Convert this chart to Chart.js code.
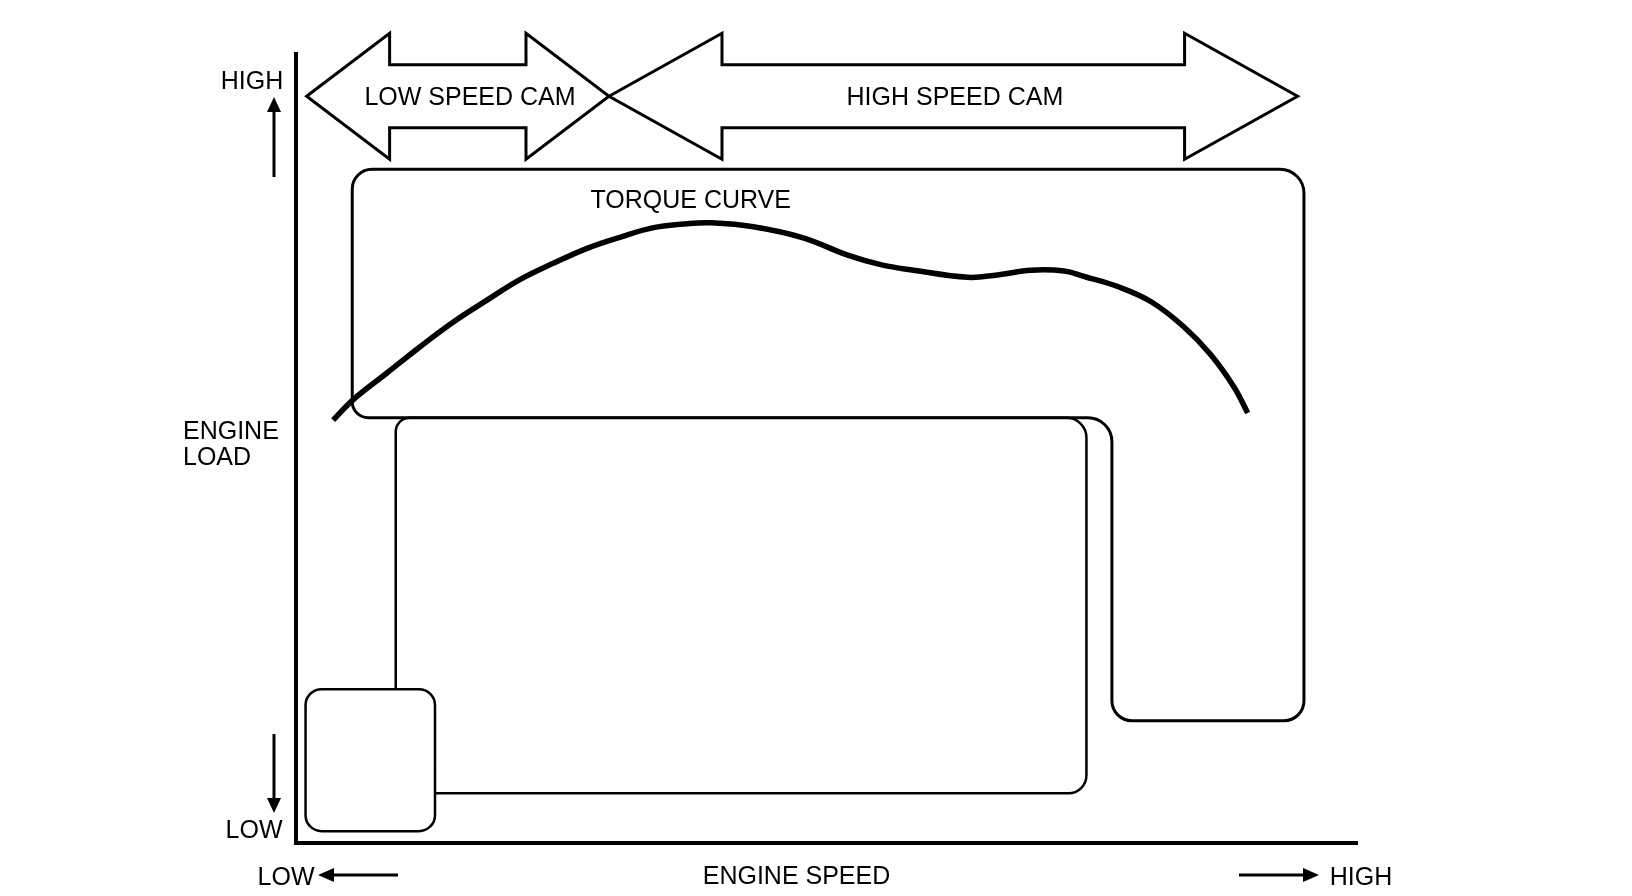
<!DOCTYPE html>
<html><head><meta charset="utf-8">
<script src="https://cdn.jsdelivr.net/npm/chart.js@4.4.1/dist/chart.umd.min.js"></script>
<style>html,body{margin:0;padding:0;background:#fff}#wrap{width:1632px;height:896px;position:relative}</style>
</head><body><div id="wrap"><canvas id="c"></canvas></div>
<script>
// ---- data (engine speed / engine load, 0..100 relative units) ----
const engineSpeed = [3.5, 5.4, 8.6, 11.7, 14.8, 18.0, 21.1, 24.3, 27.5, 30.6, 33.7, 36.9, 39.1, 43.1, 47.8, 52.0, 55.1, 58.2, 63.3, 66.1, 69.3, 72.4, 74.3, 77.5, 80.6, 83.7, 86.2, 88.4, 89.7];
const torqueLoad  = [53.6, 56.2, 59.6, 62.9, 66.0, 68.8, 71.4, 73.5, 75.4, 76.8, 78.0, 78.5, 78.6, 78.1, 76.7, 74.5, 73.3, 72.6, 71.7, 72.0, 72.6, 72.5, 71.8, 70.5, 68.6, 65.4, 61.9, 57.8, 54.5];
const curveLabel = 'TORQUE CURVE';
const curveLabelAt = [37.2, 81.4];
const camLabels = ['LOW SPEED CAM', 'HIGH SPEED CAM'];
const camRanges = [[1.0, 29.5], [29.5, 94.4]];
const camLabelX = [16.4, 62.1];
const camLevel = 94.65;
// regions: [x1, y1, x2, y2]
const regionIdle = [0.9, 1.5, 13.1, 19.5];
const regionLow = [9.4, 6.3, 74.5, 53.9];
// L-shaped high-load region: left, right, top, band bottom, leg left, leg bottom
const regionHigh = [5.3, 95.0, 85.4, 53.9, 76.9, 15.5];
const xTitle = 'ENGINE SPEED';
const yTitle = ['ENGINE', 'LOAD'];
const yTitleAt = [52.1, 48.8];
const endLabels = ['LOW', 'HIGH'];

const FONT = '25px "Liberation Sans", Arial, sans-serif';

function roundPoly(ctx, pts, radii) {
  const n = pts.length;
  const sx = (pts[n - 1][0] + pts[0][0]) / 2, sy = (pts[n - 1][1] + pts[0][1]) / 2;
  ctx.beginPath();
  ctx.moveTo(sx, sy);
  for (let i = 0; i < n; i++) {
    const p = pts[i], q = pts[(i + 1) % n];
    ctx.arcTo(p[0], p[1], q[0], q[1], radii[i]);
  }
  ctx.closePath();
}
function arrowLine(ctx, x1, y1, x2, y2, hl, hw) {
  const a = Math.atan2(y2 - y1, x2 - x1);
  const bx = x2 - hl * Math.cos(a), by = y2 - hl * Math.sin(a);
  ctx.beginPath(); ctx.moveTo(x1, y1); ctx.lineTo(bx, by); ctx.stroke();
  ctx.beginPath(); ctx.moveTo(x2, y2);
  ctx.lineTo(bx + hw * Math.sin(a), by - hw * Math.cos(a));
  ctx.lineTo(bx - hw * Math.sin(a), by + hw * Math.cos(a));
  ctx.closePath(); ctx.fill();
}

const diagram = {
  id: 'diagram',
  beforeDatasetsDraw(chart) {
    const ctx = chart.ctx, xs = chart.scales.x, ys = chart.scales.y;
    const X = v => xs.getPixelForValue(v), Y = v => ys.getPixelForValue(v);
    ctx.save();
    ctx.strokeStyle = '#000'; ctx.fillStyle = '#000';
    // L-shaped region
    const [l, r, t, b, lx, lb] = regionHigh;
    ctx.lineWidth = 3;
    roundPoly(ctx, [[X(l), Y(t)], [X(r), Y(t)], [X(r), Y(lb)], [X(lx), Y(lb)], [X(lx), Y(b)], [X(l), Y(b)]], [20, 24, 20, 20, 24, 16]);
    ctx.stroke();
    // middle region
    ctx.lineWidth = 2.5;
    const m = regionLow;
    roundPoly(ctx, [[X(m[0]), Y(m[3])], [X(m[2]), Y(m[3])], [X(m[2]), Y(m[1])], [X(m[0]), Y(m[1])]], [14, 20, 18, 14]);
    ctx.stroke();
    // small idle region
    const s = regionIdle;
    roundPoly(ctx, [[X(s[0]), Y(s[3])], [X(s[2]), Y(s[3])], [X(s[2]), Y(s[1])], [X(s[0]), Y(s[1])]], [16, 16, 16, 16]);
    ctx.fillStyle = '#fff'; ctx.fill(); ctx.stroke();
    // cam arrows
    const yc = Y(camLevel), sh = 31.5, hh = 63, heads = [83, 113];
    ctx.lineWidth = 3; ctx.lineJoin = 'miter';
    camRanges.forEach((rg, i) => {
      const a = X(rg[0]), e = X(rg[1]), hl = heads[i];
      const pts = [[a, yc], [a + hl, yc - hh], [a + hl, yc - sh], [e - hl, yc - sh], [e - hl, yc - hh], [e, yc],
                   [e - hl, yc + hh], [e - hl, yc + sh], [a + hl, yc + sh], [a + hl, yc + hh]];
      ctx.beginPath(); ctx.moveTo(pts[0][0], pts[0][1]);
      pts.slice(1).forEach(p => ctx.lineTo(p[0], p[1]));
      ctx.closePath(); ctx.fillStyle = '#fff'; ctx.fill(); ctx.stroke();
    });
    ctx.fillStyle = '#000'; ctx.font = FONT; ctx.textAlign = 'center'; ctx.textBaseline = 'middle';
    camLabels.forEach((txt, i) => ctx.fillText(txt, X(camLabelX[i]), yc + 2));
    ctx.restore();
  },
  afterDraw(chart) {
    const ctx = chart.ctx, xs = chart.scales.x, ys = chart.scales.y, ca = chart.chartArea;
    const X = v => xs.getPixelForValue(v), Y = v => ys.getPixelForValue(v);
    ctx.save();
    ctx.fillStyle = '#000'; ctx.strokeStyle = '#000'; ctx.font = FONT; ctx.textBaseline = 'middle';
    ctx.textAlign = 'center';
    ctx.fillText(curveLabel, X(curveLabelAt[0]), Y(curveLabelAt[1]));
    // y-axis annotations
    ctx.fillText(endLabels[1], ca.left - 44, ca.top + 28);
    ctx.fillText(endLabels[0], ca.left - 42, ca.bottom - 12);
    ctx.textAlign = 'left';
    ctx.fillText(yTitle[0], ca.left - 113, Y(yTitleAt[0]));
    ctx.fillText(yTitle[1], ca.left - 113, Y(yTitleAt[1]));
    ctx.lineWidth = 3;
    arrowLine(ctx, ca.left - 22, ca.top + 123, ca.left - 22, ca.top + 43, 15, 7);
    arrowLine(ctx, ca.left - 22, ca.bottom - 109, ca.left - 22, ca.bottom - 30, 15, 7);
    // x-axis annotations
    const ty = ca.bottom + 32;
    ctx.textAlign = 'center';
    ctx.fillText(xTitle, (ca.left + ca.right) / 2 - 30, ty + 2);
    ctx.fillText(endLabels[0], ca.left - 10, ty + 3);
    ctx.fillText(endLabels[1], ca.right + 4, ty + 3);
    arrowLine(ctx, ca.left + 102, ty, ca.left + 22, ty, 16, 7);
    arrowLine(ctx, ca.right - 118, ty, ca.right - 38, ty, 16, 7);
    ctx.restore();
  }
};

new Chart(document.getElementById('c'), {
  type: 'line',
  data: {
    datasets: [{
      data: engineSpeed.map((v, i) => ({ x: v, y: torqueLoad[i] })),
      borderColor: '#000', borderWidth: 5.5, pointRadius: 0, tension: 0.4,
      fill: false, borderCapStyle: 'butt'
    }]
  },
  options: {
    responsive: true, maintainAspectRatio: false, animation: false,
    layout: { padding: { left: 296, right: 275, top: 54, bottom: 53 } },
    plugins: { legend: { display: false }, tooltip: { enabled: false } },
    scales: {
      x: { type: 'linear', min: 0, max: 100,
           ticks: { display: false }, grid: { display: false, drawTicks: false, tickLength: 0 },
           border: { display: true, width: 4, color: '#000' } },
      y: { type: 'linear', min: 0, max: 100,
           ticks: { display: false }, grid: { display: false, drawTicks: false, tickLength: 0 },
           border: { display: true, width: 4, color: '#000' } }
    }
  },
  plugins: [diagram]
});
</script></body></html>
